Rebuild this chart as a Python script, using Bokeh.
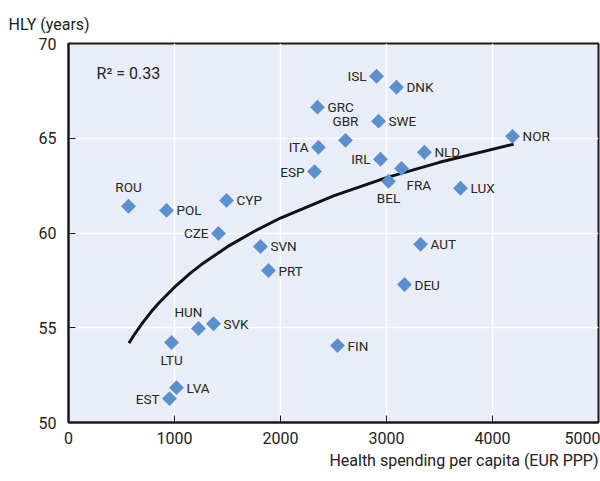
import math
from bokeh.plotting import figure
from bokeh.models import ColumnDataSource, Label, Title, FixedTicker, Range1d
from bokeh.core.properties import value
from bokeh.embed import file_html
from bokeh.resources import INLINE

FONT = "Roboto"

countries = ["ISL", "DNK", "GRC", "SWE", "GBR", "ITA", "NLD", "NOR", "IRL", "FRA",
             "ESP", "BEL", "LUX", "ROU", "POL", "CYP", "CZE", "SVN", "AUT", "PRT",
             "DEU", "HUN", "SVK", "LTU", "FIN", "LVA", "EST"]
spending = [2906, 3094, 2349, 2925, 2613, 2358, 3358, 4189, 2943, 3142,
            2321, 3019, 3698, 566, 925, 1491, 1415, 1811, 3321, 1887,
            3170, 1226, 1368, 972, 2538, 1019, 953]
hly = [68.27, 67.69, 66.64, 65.90, 64.89, 64.52, 64.26, 65.10, 63.89, 63.41,
       63.24, 62.73, 62.36, 61.41, 61.19, 61.72, 59.98, 59.29, 59.40, 58.02,
       57.28, 54.96, 55.21, 54.22, 54.06, 51.84, 51.26]
# label placement (style): r=right, l=left, a=above, b=below, al=above-left
place = ["l", "r", "r", "r", "a", "l", "r", "r", "l", "b2",
         "l", "b", "r", "a", "r", "r", "l", "r", "r", "r",
         "r", "al", "r", "b", "r", "r", "l"]

trend_x = [570, 620, 700, 780, 850, 1000, 1150, 1250, 1500, 1750, 2000, 2500, 3000, 3500, 4200]
trend_y = [54.19, 54.63, 55.27, 55.84, 56.29, 57.14, 57.88, 58.32, 59.28, 60.08, 60.79,
           61.96, 62.92, 63.73, 64.69]

x_ticks = [0, 1000, 2000, 3000, 4000, 5000]
y_ticks = [50, 55, 60, 65, 70]

offsets = {"r": (10, 0, "left", "middle"), "l": (-10, 0, "right", "middle"),
           "a": (0, -11, "center", "bottom"), "b": (0, 9, "center", "top"),
           "b2": (5, 9, "left", "top"), "al": (-10, -9, "center", "bottom")}
xo = [offsets[k][0] for k in place]
yo = [offsets[k][1] for k in place]
al = [offsets[k][2] for k in place]
bl = [offsets[k][3] for k in place]

src = ColumnDataSource(dict(x=spending, y=hly, name=countries, xo=xo, yo=yo, al=al, bl=bl))

p = figure(width=600, height=481, output_backend="svg", toolbar_location=None,
           x_range=Range1d(0, 5000), y_range=Range1d(50, 70),
           min_border_left=68, min_border_right=2, min_border_top=43, min_border_bottom=59)
p.background_fill_color = "#E9EDF7"
p.border_fill_color = "white"
p.outline_line_color = "#1a1a1a"
p.outline_line_width = 2

p.xgrid.ticker = FixedTicker(ticks=x_ticks)
p.ygrid.ticker = FixedTicker(ticks=y_ticks)
p.grid.grid_line_color = "white"
p.grid.grid_line_width = 1.5

for ax, ticks in ((p.xaxis[0], x_ticks), (p.yaxis[0], y_ticks)):
    ax.ticker = FixedTicker(ticks=ticks)
    ax.major_tick_in = 7
    ax.major_tick_out = 0
    ax.minor_tick_line_color = None
    ax.axis_line_color = "#1a1a1a"
    ax.axis_line_width = 2
    ax.major_tick_line_color = "#1a1a1a"
    ax.major_tick_line_width = 1
    ax.major_label_text_font = FONT
    ax.major_label_text_font_size = "16px"
    ax.major_label_text_color = "#222222"
p.xaxis.major_label_standoff = 9
p.yaxis.major_label_standoff = 12

p.line(trend_x, trend_y, line_color="#111111", line_width=3)
p.scatter("x", "y", source=src, marker="square", angle=math.pi / 4, size=10.5,
          fill_color="#5B8FCD", line_color=None)
p.text("x", "y", text="name", source=src, x_offset="xo", y_offset="yo",
       text_align="al", text_baseline="bl", text_font=value(FONT),
       text_font_size="13.5px", text_color="#262626")

p.add_layout(Label(x=265, y=68.4, text="R\u00b2 = 0.33", text_font=FONT, text_font_size="16px",
                   text_color="#222222", text_baseline="middle"))

spacer = Title(text=" ", text_font=FONT, text_font_size="6px", standoff=0)
p.add_layout(spacer, "above")
t = Title(text="HLY (years)", align="left", offset=-60, text_font=FONT, text_font_size="16px",
          text_font_style="normal", text_color="#222222", standoff=2)
p.add_layout(t, "above")
xt = Title(text="Health spending per capita (EUR PPP)", align="right", text_font=FONT,
           text_font_size="16px", text_font_style="normal", text_color="#222222", standoff=5)
p.add_layout(xt, "below")

open("out.html", "w").write(file_html(p, INLINE))
